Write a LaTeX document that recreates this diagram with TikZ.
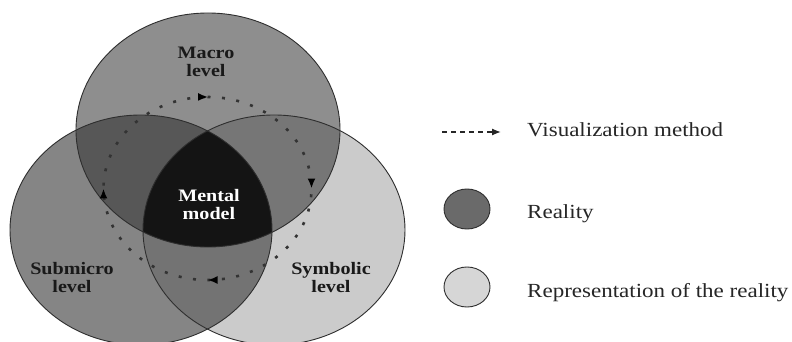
\documentclass[tikz,border=0pt]{standalone}
\usepackage{fontspec}
\setmainfont[FakeStretch=1.15]{Liberation Serif}
\usetikzlibrary{arrows.meta,decorations.markings}
\definecolor{cTop}{HTML}{8E8E8E}
\definecolor{cLeft}{HTML}{858585}
\definecolor{cRight}{HTML}{CBCBCB}
\definecolor{cTL}{HTML}{575757}
\definecolor{cTR}{HTML}{767676}
\definecolor{cLR}{HTML}{737373}
\definecolor{cMid}{HTML}{141414}
\definecolor{cEdge}{HTML}{2E2E2E}
\definecolor{cReal}{HTML}{6A6A6A}
\definecolor{cRepr}{HTML}{D6D6D6}
\tikzset{
  lbl/.style={font=\fontsize{17.5}{18}\selectfont\bfseries, align=center, text=black!90, inner sep=0pt},
  leg/.style={font=\fontsize{20}{22}\selectfont, anchor=base west, inner sep=0pt, text=black!85},
  edge/.style={draw=cEdge, line width=0.9pt},
  cyc/.style={draw=black!80, line width=2.6pt, dash pattern=on 3pt off 11.5pt},
}
\begin{document}
\begin{tikzpicture}[x=1pt,y=-1pt]
\fill[white] (0,0) rectangle (792,342);
\useasboundingbox (0,0) rectangle (792,342);
\def\Top{(208,130) ellipse [x radius=132pt, y radius=117pt]}
\def\Lft{(141,230) ellipse [x radius=131pt, y radius=115pt]}
\def\Rgt{(274,230) ellipse [x radius=131pt, y radius=115pt]}
% base fills
\fill[cLeft] \Lft;
\fill[cRight] \Rgt;
\fill[cTop] \Top;
% pairwise overlaps
\begin{scope}\clip \Top; \fill[cTL] \Lft; \end{scope}
\begin{scope}\clip \Top; \fill[cTR] \Rgt; \end{scope}
\begin{scope}\clip \Lft; \fill[cLR] \Rgt; \end{scope}
\begin{scope}\clip \Top; \clip \Lft; \fill[cMid] \Rgt; \end{scope}
% outlines
\draw[edge] \Lft;
\draw[edge] \Rgt;
\draw[edge] \Top;
% visualization cycle
\draw[cyc, postaction={decorate}, decoration={markings,
   mark=at position 0.001 with {\arrow[black]{Latex[length=10pt,width=8pt]}},
   mark=at position 0.25 with {\arrow[black]{Latex[length=10pt,width=8pt]}},
   mark=at position 0.5 with {\arrow[black]{Latex[length=10pt,width=8pt]}},
   mark=at position 0.75 with {\arrow[black]{Latex[length=10pt,width=8pt]}}}]
   (207.5,97) arc [start angle=90, end angle=-270, x radius=104pt, y radius=91.5pt];
% labels
\node[lbl] (macro) at (206,62) {Macro\\level};
\node[lbl, text=white] (mental) at (209,205) {Mental\\model};
\node[lbl] (submicro) at (72,278) {Submicro\\level};
\node[lbl] (symbolic) at (331,278) {Symbolic\\level};
% legend
\coordinate (la) at (442,132);
\coordinate (lb) at (501,132);
\draw[black!85, line width=1.3pt, dash pattern=on 5pt off 4pt, -{Latex[length=9pt,width=7pt]}] (la) -- (lb);
\node[leg] (tvis) at (527,136) {Visualization method};
\draw[edge, fill=cReal] (467,209) ellipse [x radius=23pt, y radius=20pt];
\node[leg] (treal) at (527,218) {Reality};
\draw[edge, fill=cRepr] (467,287) ellipse [x radius=23pt, y radius=20pt];
\node[leg] (trepr) at (527,297) {Representation of the reality};
\end{tikzpicture}
\end{document}
